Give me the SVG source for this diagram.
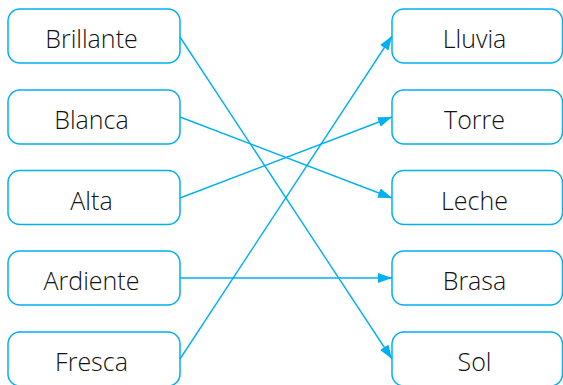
<svg xmlns="http://www.w3.org/2000/svg" width="563" height="385" viewBox="0 0 563 385">
<style>
.box{fill:#fff;stroke:#00B0F0;stroke-width:1.5}
.lbl{font-family:"Open Sans","Liberation Sans",sans-serif;font-weight:300;font-size:25px;fill:#111;text-anchor:middle}
.con{stroke:#00B0F0;stroke-width:1.4;fill:none}
</style>
<defs>
<marker id="ah" markerWidth="14" markerHeight="10" refX="14" refY="5" orient="auto" markerUnits="userSpaceOnUse">
<path d="M0,0 L14,5 L0,10 Z" fill="#00B0F0"/>
</marker>
</defs>
<rect width="563" height="385" fill="#fff"/>
<g id="n-brillante"><rect class="box" x="8" y="9" width="172" height="54" rx="12"/><text class="lbl" x="91.5" y="48">Brillante</text></g>
<g id="n-blanca"><rect class="box" x="8" y="90" width="172" height="54" rx="12"/><text class="lbl" x="91.5" y="129">Blanca</text></g>
<g id="n-alta"><rect class="box" x="8" y="170.5" width="172" height="54" rx="12"/><text class="lbl" x="91.5" y="209.5">Alta</text></g>
<g id="n-ardiente"><rect class="box" x="8" y="251" width="172" height="54" rx="12"/><text class="lbl" x="91.5" y="290">Ardiente</text></g>
<g id="n-fresca"><rect class="box" x="8" y="332" width="172" height="54" rx="12"/><text class="lbl" x="91.5" y="371">Fresca</text></g>
<g id="n-lluvia"><rect class="box" x="392" y="9" width="170.5" height="54" rx="12"/><text class="lbl" x="474.5" y="48">Lluvia</text></g>
<g id="n-torre"><rect class="box" x="392" y="90" width="170.5" height="54" rx="12"/><text class="lbl" x="474.5" y="129">Torre</text></g>
<g id="n-leche"><rect class="box" x="392" y="170.5" width="170.5" height="54" rx="12"/><text class="lbl" x="474.5" y="209.5">Leche</text></g>
<g id="n-brasa"><rect class="box" x="392" y="251" width="170.5" height="54" rx="12"/><text class="lbl" x="474.5" y="290">Brasa</text></g>
<g id="n-sol"><rect class="box" x="392" y="332" width="170.5" height="54" rx="12"/><text class="lbl" x="474.5" y="371">Sol</text></g>
<g id="connectors">
<line class="con" x1="180" y1="37" x2="392" y2="359" marker-end="url(#ah)"/>
<line class="con" x1="180" y1="117" x2="392" y2="198" marker-end="url(#ah)"/>
<line class="con" x1="180" y1="198" x2="392" y2="117" marker-end="url(#ah)"/>
<line class="con" x1="180" y1="278" x2="392" y2="278" marker-end="url(#ah)"/>
<line class="con" x1="180" y1="359" x2="392" y2="36" marker-end="url(#ah)"/>
</g>
</svg>
